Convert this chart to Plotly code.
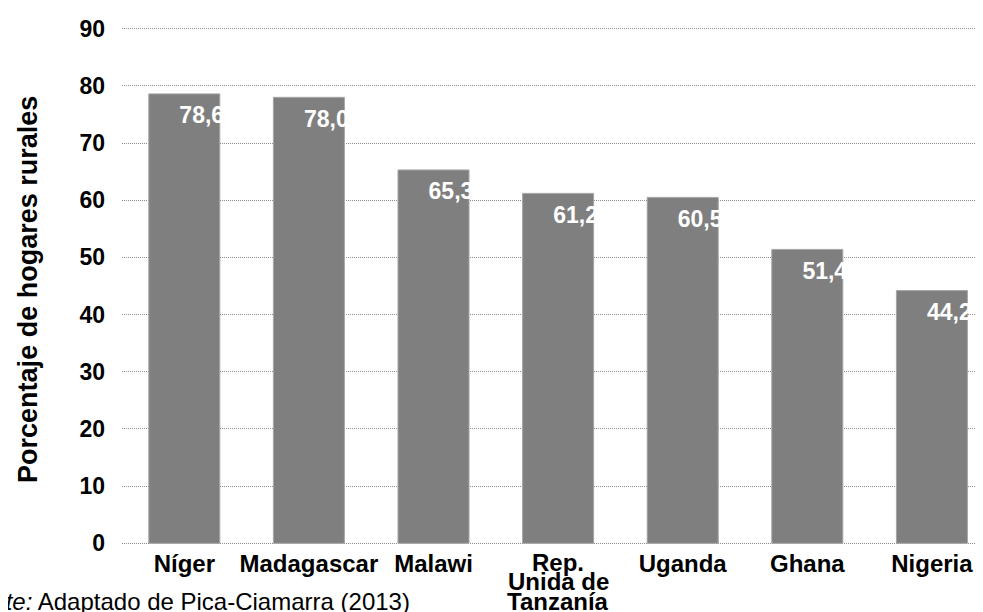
import plotly.graph_objects as go

countries = ["Níger", "Madagascar", "Malawi", "Rep. Unida de Tanzanía", "Uganda", "Ghana", "Nigeria"]
tick_labels = ["Níger", "Madagascar", "Malawi", "", "Uganda", "Ghana", "Nigeria"]
tanzania_lines = ["Rep.", "Unida de", "Tanzanía"]
values = [78.6, 78.0, 65.3, 61.2, 60.5, 51.4, 44.2]
value_labels = ["78,6", "78,0", "65,3", "61,2", "60,5", "51,4", "44,2"]
y_ticks = [0, 10, 20, 30, 40, 50, 60, 70, 80, 90]

FONT = "Arial, Liberation Sans, sans-serif"
idx = list(range(len(countries)))

fig = go.Figure()
fig.add_trace(go.Bar(
    x=idx, y=values, width=0.57,
    marker=dict(color="#7f7f7f", line=dict(color="#a6a6a6", width=1)),
    hoverinfo="skip", showlegend=False,
))
fig.add_trace(go.Scatter(
    x=[i + 0.14 for i in idx], y=[v - 4.1 for v in values],
    mode="text", text=value_labels, textposition="middle center",
    textfont=dict(family=FONT, size=23, color="white", weight="bold"),
    hoverinfo="skip", showlegend=False,
))

fig.update_layout(
    width=983, height=612,
    margin=dict(l=114, r=8, t=14.3, b=75.3),
    paper_bgcolor="white", plot_bgcolor="white",
    font=dict(family=FONT, color="black"),
    xaxis=dict(
        range=[-0.5, 6.41], tickmode="array", tickvals=idx, ticktext=tick_labels,
        showgrid=False, zeroline=False, showline=False, ticks="",
        tickfont=dict(family=FONT, size=24, color="black", weight="bold"),
        ticklabelstandoff=2,
    ),
    yaxis=dict(
        range=[-0.3, 90.3], tickmode="array", tickvals=y_ticks,
        showgrid=True, gridcolor="#8c8c8c", gridwidth=1, griddash="1px,1px",
        zeroline=False, showline=False, ticks="",
        tickfont=dict(family=FONT, size=23, color="black", weight="bold"),
        ticklabelstandoff=16,
    ),
)

# y-axis title
fig.add_annotation(
    text="Porcentaje de hogares rurales", textangle=-90,
    xref="paper", yref="paper", x=-0.11, y=0.493, xanchor="center", yanchor="middle",
    showarrow=False, font=dict(family=FONT, size=27, color="black", weight="bold"),
)

# Multi-line tick label for Tanzania (tight line spacing)
for k, line in enumerate(tanzania_lines):
    fig.add_annotation(
        text=line, xref="x", yref="y", x=3, y=0, xanchor="center", yanchor="middle",
        yshift=-19 - 19.5 * k, showarrow=False,
        font=dict(family=FONT, size=24, color="black", weight="bold"),
    )

# Source note
fig.add_annotation(
    text="<i>Fuente:</i> Adaptado de Pica-Ciamarra (2013)",
    xref="paper", yref="paper", x=-0.201, y=-0.1097, xanchor="left", yanchor="middle",
    showarrow=False, font=dict(family=FONT, size=24, color="black"),
)

fig.write_html("out.html")
